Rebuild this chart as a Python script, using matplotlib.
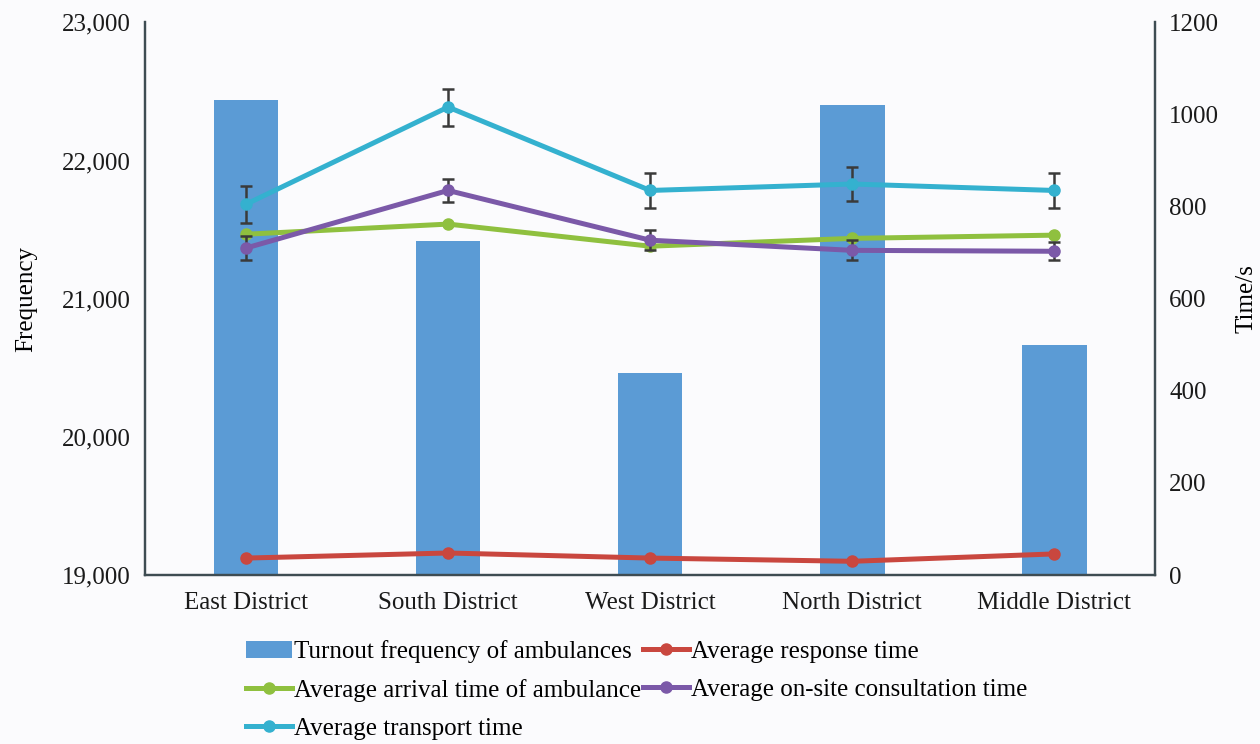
import numpy as np
import matplotlib.pyplot as plt
from matplotlib.ticker import FuncFormatter

plt.rcParams['font.family'] = ['Liberation Serif', 'DejaVu Serif']

districts = ["East District", "South District", "West District",
             "North District", "Middle District"]
turnout = [22440, 21420, 20460, 22400, 20665]

response_time = [37, 48, 37, 30, 46]
arrival_time = [740, 762, 714, 731, 738]
onsite_time = [710, 835, 727, 705, 703]
onsite_err = [26, 24, 22, 22, 20]
transport_time = [805, 1016, 835, 849, 835]
transport_err = [40, 40, 38, 36, 37]

C_BAR = "#5b9bd5"
C_RED = "#c9473f"
C_GREEN = "#8fc03f"
C_PURPLE = "#7b59a8"
C_CYAN = "#34b1cf"
C_AXIS = "#3e4c52"
C_ERR = "#3a3a3a"
FS = 18

fig = plt.figure(figsize=(12.6, 7.44), dpi=100, facecolor="#fbfbfd")
ax = fig.add_axes([0.115, 0.227, 0.802, 0.743])
ax.set_facecolor("#fbfbfd")
x = np.arange(len(districts))

bars = ax.bar(x, turnout, width=0.32, color=C_BAR, zorder=1,
              label="Turnout frequency of ambulances")
ax.set_ylim(19000, 23000)
ax.set_xlim(-0.5, 4.5)
ax.set_yticks([19000, 20000, 21000, 22000, 23000])
ax.yaxis.set_major_formatter(FuncFormatter(lambda v, p: f"{int(v):,}"))
ax.set_xticks(x)
ax.set_xticklabels(districts)
ax.set_ylabel("Frequency", fontsize=FS, labelpad=18)

ax2 = ax.twinx()
ax2.set_ylim(0, 1200)
ax2.set_yticks(np.arange(0, 1201, 200))
ax2.set_ylabel("Time/s", fontsize=FS, labelpad=12)

lw, ms = 3.6, 8
l_red, = ax2.plot(x, response_time, "-o", color=C_RED, lw=lw, ms=ms,
                  label="Average response time")
l_green, = ax2.plot(x, arrival_time, "-o", color=C_GREEN, lw=lw, ms=ms,
                    label="Average arrival time of ambulance")
ax2.errorbar(x, onsite_time, yerr=onsite_err, fmt="none", ecolor=C_ERR,
             elinewidth=1.8, capsize=4, capthick=1.8, zorder=2)
l_purple, = ax2.plot(x, onsite_time, "-o", color=C_PURPLE, lw=lw, ms=ms,
                     label="Average on-site consultation time", zorder=3)
ax2.errorbar(x, transport_time, yerr=transport_err, fmt="none", ecolor=C_ERR,
             elinewidth=1.8, capsize=4, capthick=1.8, zorder=2)
l_cyan, = ax2.plot(x, transport_time, "-o", color=C_CYAN, lw=lw, ms=ms,
                   label="Average transport time", zorder=3)

for a in (ax, ax2):
    a.tick_params(length=0, labelsize=FS, colors="#1a1a1a", pad=10)
    a.spines["top"].set_visible(False)
    for s in ("left", "right", "bottom"):
        a.spines[s].set_color(C_AXIS)
        a.spines[s].set_linewidth(1.6)
ax.tick_params(axis="x", pad=12)

handles = [bars, l_green, l_cyan, l_red, l_purple]
fig.legend(handles=handles, labels=[h.get_label() for h in handles],
           ncol=2, loc="upper left", bbox_to_anchor=(0.187, 0.153),
           frameon=False, fontsize=FS, handlelength=1.85, handletextpad=0.1,
           columnspacing=0.05, labelspacing=0.62, borderaxespad=0)

fig.savefig("out.png", dpi=100, facecolor=fig.get_facecolor())
